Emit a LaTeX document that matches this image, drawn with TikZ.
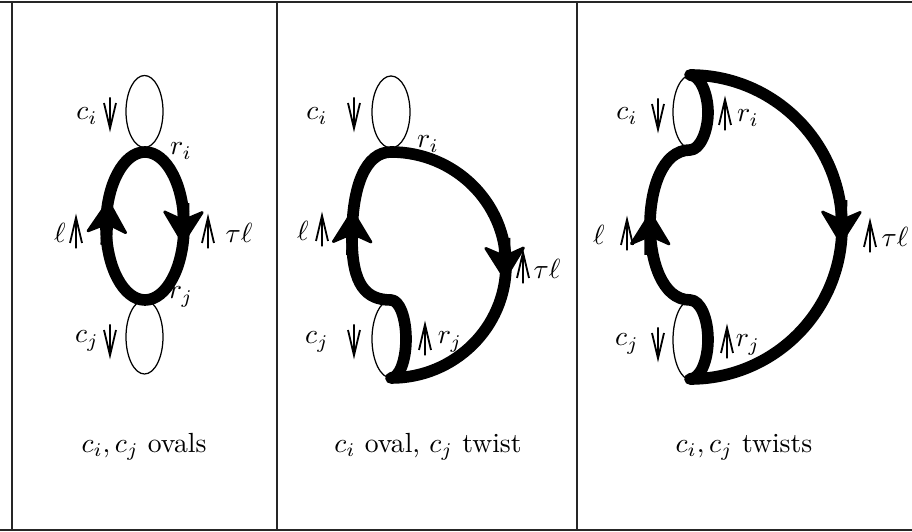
\documentclass[tikz,border=0pt]{standalone}
\usetikzlibrary{arrows.meta}
\tikzset{
  frame/.style={line width=0.7pt, black!85},
  thinl/.style={line width=0.45pt},
  thickl/.style={line width=4.2pt, line join=round},
  arrowseg/.style={line width=4.2pt, -{Stealth[length=13pt, width=16pt, inset=3.5pt, round, line width=1pt]}},
  forkl/.style={line width=0.65pt},
  upfork/.pic={\draw[forkl] (0,15.5) -- (0,-15.5) (-6,10) -- (0,-15.5) -- (6,10);},
  downfork/.pic={\draw[forkl] (0,-15.5) -- (0,15.5) (-6,-10) -- (0,15.5) -- (6,-10);},
  lbl/.style={inner sep=0pt, outer sep=0pt},
}
\begin{document}
\begin{tikzpicture}[x=0.3612pt, y=-0.3612pt]
\useasboundingbox (0,0) rectangle (912,532);
% frame
\draw[frame] (0,2) -- (912,2);
\draw[frame] (0,530) -- (912,530);
\draw[frame] (12,2) -- (12,530);
\draw[frame] (277,2) -- (277,530);
\draw[frame] (577,2) -- (577,530);

% ---------- Panel 1 ----------
\draw[thinl] (144.5,111.5) ellipse [x radius=18.5, y radius=36];
\draw[thinl] (144.5,337) ellipse [x radius=18.5, y radius=37];
\draw[thickl] (145,226) ellipse [x radius=39, y radius=74];
\draw[arrowseg] (106.2,245) -- (108.4,200);
\draw[arrowseg] (183.6,203) -- (182.9,244);
\node[lbl] (ci1) at (87,116) {$c_i$};
\pic at (110,113) {downfork};
\node[lbl] (cj1) at (87,341) {$c_j$};
\pic at (110,340) {downfork};
\node[lbl] (l1) at (60,233) {$\ell$};
\pic at (76,233) {upfork};
\pic at (208,233) {upfork};
\node[lbl] (tl1) at (239,233) {$\tau\ell$};
\node[lbl] (ri1) at (181,151) {$r_i$};
\node[lbl] (rj1) at (181,297) {$r_j$};
\node[lbl] (cap1) at (144,447) {$c_i, c_j$ ovals};

% ---------- Panel 2 ----------
\draw[thinl] (391,112) ellipse [x radius=19, y radius=36];
\draw[thinl] (391,339) ellipse [x radius=19, y radius=39];
\draw[thickl] (391,152) .. controls (454.5,152) and (506,202.6) .. (506,265)
  .. controls (506,327.4) and (454.5,378) .. (391,378)
  .. controls (399.3,378) and (406,360.5) .. (406,339)
  .. controls (406,317.5) and (399.3,300) .. (391,300)
  .. controls (366,300) and (352,285) .. (352,238)
  .. controls (352,185) and (366,152) .. cycle;
\draw[arrowseg] (352,255) -- (352.5,210);
\draw[arrowseg] (504.5,238) -- (505,280);
\node[lbl] (ci2) at (317,116) {$c_i$};
\pic at (354,113) {downfork};
\node[lbl] (ri2) at (428,144) {$r_i$};
\node[lbl] (l2) at (303,231) {$\ell$};
\pic at (322,231) {upfork};
\pic at (523,268) {upfork};
\node[lbl] (tl2) at (547,269) {$\tau\ell$};
\node[lbl] (cj2) at (317,342) {$c_j$};
\pic at (354,340) {downfork};
\pic at (425,340) {upfork};
\node[lbl] (rj2) at (450,342) {$r_j$};
\node[lbl] (cap2) at (428,447) {$c_i$ oval, $c_j$ twist};

% ---------- Panel 3 ----------
\draw[thinl] (691,112) ellipse [x radius=18, y radius=37];
\draw[thinl] (691,340) ellipse [x radius=18, y radius=40];
\draw[thickl] (690,75) .. controls (774,75) and (842,143) .. (842,227)
  .. controls (842,311) and (774,379) .. (690,379)
  .. controls (700,379) and (708,361) .. (708,339.5)
  .. controls (708,318) and (700,300) .. (690,300)
  .. controls (662,300) and (650,260) .. (650,225)
  .. controls (650,190) and (662,150) .. (690,150)
  .. controls (700,150) and (708,131) .. (708,112.5)
  .. controls (708,94) and (700,75) .. cycle;
\draw[arrowseg] (650.1,255) -- (650.5,212);
\draw[arrowseg] (841.5,200) -- (841,244);
\node[lbl] (ci3) at (627,116) {$c_i$};
\pic at (658,114) {downfork};
\pic at (725,115) {upfork};
\node[lbl] (ri3) at (748,118) {$r_i$};
\node[lbl] (l3) at (599,235) {$\ell$};
\pic at (627,235) {upfork};
\pic at (870,237) {upfork};
\node[lbl] (tl3) at (895,237) {$\tau\ell$};
\node[lbl] (cj3) at (627,344) {$c_j$};
\pic at (658,343) {downfork};
\pic at (727,343) {upfork};
\node[lbl] (rj3) at (748,345) {$r_j$};
\node[lbl] (cap3) at (744,447) {$c_i, c_j$ twists};
\end{tikzpicture}
\end{document}
